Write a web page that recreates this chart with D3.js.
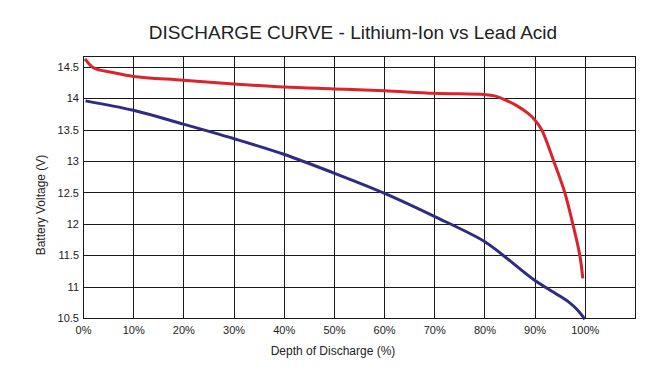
<!DOCTYPE html>
<html>
<head>
<meta charset="utf-8">
<script src="https://cdn.jsdelivr.net/npm/d3@7"></script>
<style>
  body { margin: 0; background: #fff; }
  text { font-family: "Liberation Sans", Arial, sans-serif; fill: #222; }
</style>
</head>
<body>
<div id="vis"></div>
<script>
var width = 667,
	height = 371;

// Depth of discharge (%) and voltage
var lithiumDod = [0.4, 2, 3.4, 5.4, 10, 20, 30, 40, 50, 60, 70, 80, 82, 84, 86.5, 88.7, 90, 91.4, 93.8, 96, 97.6, 99, 99.6];
var lithiumV   = [14.63, 14.49, 14.45, 14.42, 14.35, 14.29, 14.23, 14.18, 14.15, 14.12, 14.08, 14.06, 14.04, 13.98, 13.88, 13.76, 13.66, 13.5, 13.0, 12.5, 12.0, 11.5, 11.13];

var leadDod = [0.5, 10, 20, 30, 40, 50, 60, 70, 80, 83.7, 90, 95, 96.7, 98.5, 100];
var leadV   = [13.96, 13.81, 13.59, 13.36, 13.11, 12.81, 12.49, 12.12, 11.72, 11.5, 11.1, 10.85, 10.76, 10.63, 10.48];

var xTicks = [0, 10, 20, 30, 40, 50, 60, 70, 80, 90, 100, 110];
var yTicks = [10.5, 11, 11.5, 12, 12.5, 13, 13.5, 14, 14.5];

var margin = {left: 83, right: 32, top: 56, bottom: 53};

var x = d3.scaleLinear()
		.domain([0, 110])
		.range([margin.left, width - margin.right]),

	y = d3.scaleLinear()
		.domain([10.5, 14.675])
		.range([height - margin.bottom, margin.top]);

var svg = d3.select('#vis')
		.append('svg')
		.attr('width', width)
		.attr('height', height);

// grid
svg.append('g')
	.attr('transform', 'translate(0,' + (height - margin.bottom) + ')')
	.call(d3.axisBottom(x)
		.tickValues(xTicks)
		.tickSize(-(height - margin.top - margin.bottom))
		.tickFormat(function(d) { return d <= 100 ? d + '%' : ''; }))
	.call(function(g) {
		g.select('.domain').remove();
		g.selectAll('line').attr('stroke', '#1a1a1a').attr('shape-rendering', 'crispEdges');
		g.selectAll('text').attr('dy', 0).attr('y', 16).style('font-size', '11px').attr('fill', '#222');
	});

svg.append('g')
	.attr('transform', 'translate(' + margin.left + ',0)')
	.call(d3.axisLeft(y)
		.tickValues(yTicks)
		.tickSize(-(width - margin.left - margin.right))
		.tickFormat(d3.format('')))
	.call(function(g) {
		g.select('.domain').remove();
		g.selectAll('line').attr('stroke', '#1a1a1a').attr('shape-rendering', 'crispEdges');
		g.selectAll('text').attr('x', -4).style('font-size', '11px').attr('fill', '#222');
	});

// frame
svg.append('rect')
	.attr('x', margin.left)
	.attr('y', margin.top)
	.attr('width', width - margin.left - margin.right)
	.attr('height', height - margin.top - margin.bottom)
	.attr('fill', 'none')
	.attr('stroke', '#1a1a1a')
	.attr('shape-rendering', 'crispEdges');

var line = d3.line()
	.x(function(d) { return x(d[0]); })
	.y(function(d) { return y(d[1]); })
	.curve(d3.curveCatmullRom.alpha(0.5));

svg.append('path')
	.datum(d3.zip(leadDod, leadV))
	.attr('d', line)
	.attr('fill', 'none')
	.attr('stroke', '#2e2c82')
	.attr('stroke-width', 3);

svg.append('path')
	.datum(d3.zip(lithiumDod, lithiumV))
	.attr('d', line)
	.attr('fill', 'none')
	.attr('stroke', '#d9232d')
	.attr('stroke-width', 3);

// titles
svg.append('text')
	.attr('x', 353)
	.attr('y', 39)
	.attr('text-anchor', 'middle')
	.style('font-size', '19px')
	.text('DISCHARGE CURVE - Lithium-Ion vs Lead Acid');

svg.append('text')
	.attr('x', 333)
	.attr('y', 355)
	.attr('text-anchor', 'middle')
	.style('font-size', '12px')
	.text('Depth of Discharge (%)');

svg.append('text')
	.attr('transform', 'translate(45,205) rotate(-90)')
	.attr('text-anchor', 'middle')
	.style('font-size', '12px')
	.text('Battery Voltage (V)');
</script>
</body>
</html>
